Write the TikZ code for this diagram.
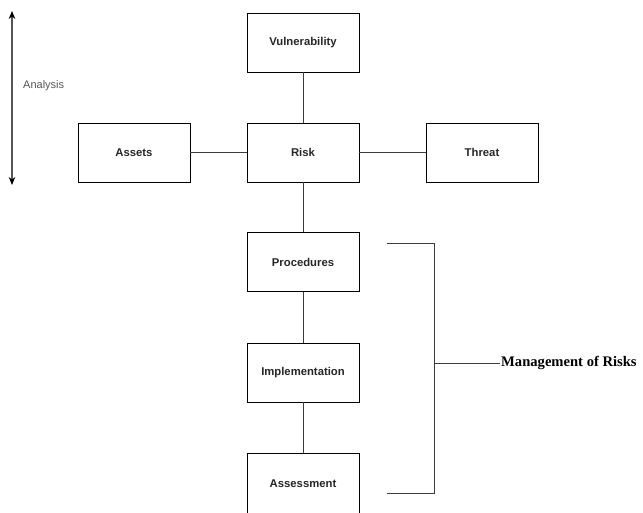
\documentclass[tikz,border=0pt]{standalone}
\usepackage{fontspec}
\setmainfont{Liberation Serif}
\setsansfont{Liberation Sans}
\usetikzlibrary{arrows.meta, positioning}
\definecolor{LineGrey}{RGB}{60, 60, 60}
\definecolor{NoteGrey}{RGB}{85, 85, 85}

\begin{document}
\begin{tikzpicture}[x=1pt, y=-1pt,
    bigtip/.tip={Stealth[length=8pt, width=6.5pt, color=black]},
    riskbox/.style={draw=black, line width=0.9pt, minimum width=112pt, minimum height=59pt,
        font=\sffamily\bfseries\fontsize{11.3}{13}\selectfont, text=black!85},
    link/.style={draw=LineGrey, line width=0.9pt}]
        \useasboundingbox (0,0) rectangle (643,513);
        % central column
        \node[riskbox] (vuln) at (303,42.5) {Vulnerability};
        \node[riskbox] (risk) at (303,152.5) {Risk};
        \node[riskbox] (assets) at (134,152.5) {Assets};
        \node[riskbox] (threat) at (482,152.5) {Threat};
        \node[riskbox] (proc) at (303,262) {Procedures};
        \node[riskbox] (impl) at (303,372.5) {Implementation};
        \node[riskbox, minimum height=61pt] (assess) at (303,484) {Assessment};
        \draw[link] (vuln) -- (risk);
        \draw[link] (assets) -- (risk);
        \draw[link] (risk) -- (threat);
        \draw[link] (risk) -- (proc);
        \draw[link] (proc) -- (impl);
        \draw[link] (impl) -- (assess);
        % analysis arrow
        \coordinate (antop) at (12,11);
        \coordinate (anbot) at (12,185);
        \draw[draw=NoteGrey, line width=1.1pt, bigtip-bigtip] (antop) -- (anbot);
        \node[anchor=west, inner sep=0pt, text=NoteGrey, font=\sffamily\fontsize{11}{13}\selectfont] (analysis) at (23,86) {Analysis};
        % management bracket
        \coordinate (brtop) at (387,243);
        \coordinate (brbot) at (387,493);
        \coordinate (brmid) at (434.5,363);
        \node[anchor=west, inner sep=1pt, font=\bfseries\fontsize{14.6}{17}\selectfont] (mgmt) at (500,363) {Management of Risks};
        \draw[link] (brtop) -| (brmid) |- (brbot);
        \draw[link] (brmid) -- (brmid -| mgmt.west);
\end{tikzpicture}
\end{document}
